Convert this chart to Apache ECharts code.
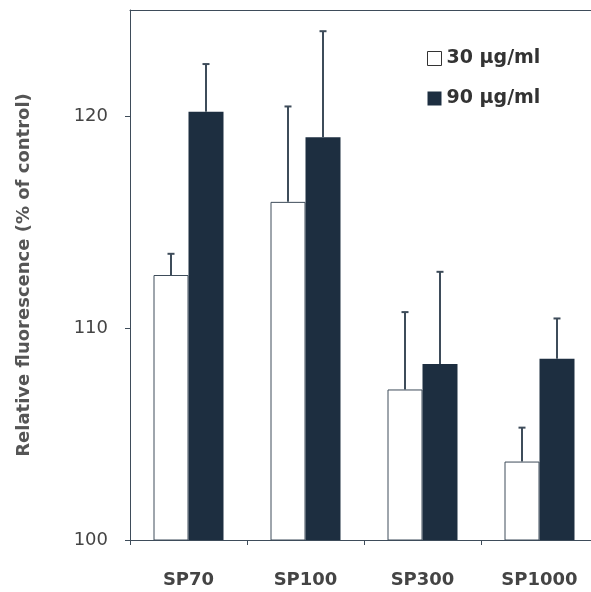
<!DOCTYPE html>
<html>
<head>
<meta charset="utf-8">
<script src="https://cdn.jsdelivr.net/npm/echarts@6/dist/echarts.min.js"></script>
<style>html,body{margin:0;padding:0;background:#fff;}#c{width:591px;height:592px;}</style>
</head>
<body>
<div id="c"></div>
<script>
const categories = ['SP70', 'SP100', 'SP300', 'SP1000'];
const seriesNames = ['30 µg/ml', '90 µg/ml'];
const values30 = [112.5, 115.95, 107.1, 103.7];
const errTop30 = [113.5, 120.45, 110.75, 105.3];
const values90 = [120.2, 119.0, 108.3, 108.55];
const errTop90 = [122.45, 124.0, 112.65, 110.45];
const yTicks = [100, 110, 120];

const BAR_W = 35;
const DARK = '#1d2e40';
const AXIS = '#3e4c5a';

function errData(vals, tops) {
  return vals.map((v, i) => [i, v, tops[i]]);
}
function errRender(offset) {
  return function (params, api) {
    const base = api.coord([api.value(0), api.value(1)]);
    const top = api.coord([api.value(0), api.value(2)]);
    const x = base[0] + offset;
    return {
      type: 'group',
      children: [
        { type: 'line', shape: { x1: x, y1: base[1], x2: x, y2: top[1] },
          style: { stroke: AXIS, lineWidth: 2 } },
        { type: 'line', shape: { x1: x - 3.5, y1: top[1], x2: x + 3.5, y2: top[1] },
          style: { stroke: AXIS, lineWidth: 2 } }
      ]
    };
  };
}

const chart = echarts.init(document.getElementById('c'), null, { renderer: 'canvas' });
chart.setOption({
  animation: false,
  backgroundColor: '#fff',
  grid: { left: 130, top: 10, width: 468, height: 530, outerBoundsMode: 'none', containLabel: false, show: false },
  legend: {
    orient: 'vertical', left: 422, top: 44, itemWidth: 14, itemHeight: 14, itemGap: 21,
    data: [
      { name: seriesNames[0], icon: 'rect', itemStyle: { color: '#fff', borderColor: '#333', borderWidth: 1 } },
      { name: seriesNames[1], icon: 'rect', itemStyle: { color: DARK } }
    ],
    textStyle: { fontFamily: 'DejaVu Sans', fontWeight: 'bold', fontSize: 19, color: '#333' }
  },
  xAxis: [{
    type: 'category', data: categories,
    axisLine: { lineStyle: { color: AXIS, width: 1 } },
    axisTick: { show: true, length: 5, lineStyle: { color: AXIS } },
    axisLabel: { fontFamily: 'DejaVu Sans', fontWeight: 'bold', fontSize: 18, color: '#444', margin: 31 }
  }, {
    type: 'category', data: categories, position: 'top',
    axisLine: { show: true, lineStyle: { color: AXIS, width: 1 } },
    axisTick: { show: false }, axisLabel: { show: false }, splitLine: { show: false }
  }],
  yAxis: {
    type: 'value', min: 100, max: 125, interval: 10,
    name: 'Relative fluorescence (% of control)', nameLocation: 'middle', nameGap: 97,
    nameTextStyle: { fontFamily: 'DejaVu Sans', fontWeight: 'bold', fontSize: 18, color: '#555' },
    axisLine: { show: true, lineStyle: { color: AXIS, width: 1 } },
    axisTick: { show: true, length: 5, lineStyle: { color: AXIS }, customValues: yTicks },
    axisLabel: { fontFamily: 'DejaVu Sans', fontSize: 18, color: '#444', margin: 22, customValues: yTicks },
    splitLine: { show: false }
  },
  series: [
    { name: seriesNames[0], type: 'bar', data: values30, barWidth: BAR_W, barGap: '0%',
      itemStyle: { color: '#fff', borderColor: AXIS, borderWidth: 1 } },
    { name: seriesNames[1], type: 'bar', data: values90, barWidth: BAR_W, barGap: '0%',
      itemStyle: { color: DARK } },
    { type: 'custom', renderItem: errRender(-BAR_W / 2), data: errData(values30, errTop30), z: 5 },
    { type: 'custom', renderItem: errRender(BAR_W / 2), data: errData(values90, errTop90), z: 5 }
  ]
});
</script>
</body>
</html>
